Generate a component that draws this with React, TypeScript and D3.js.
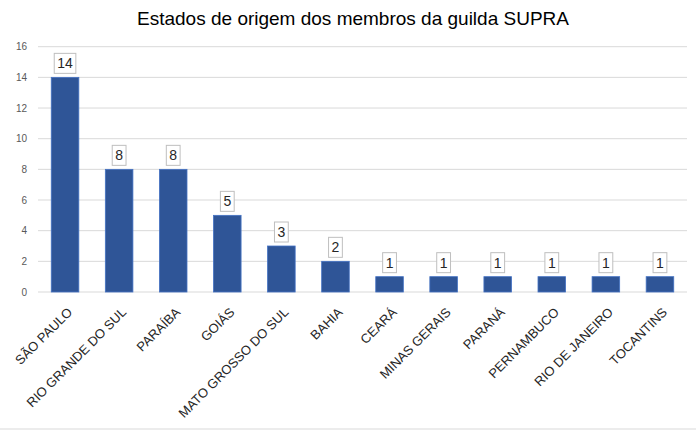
import React from "react";
import * as d3 from "d3";

const categories = [
  "SÃO PAULO",
  "RIO GRANDE DO SUL",
  "PARAÍBA",
  "GOIÁS",
  "MATO GROSSO DO SUL",
  "BAHIA",
  "CEARÁ",
  "MINAS GERAIS",
  "PARANÁ",
  "PERNAMBUCO",
  "RIO DE JANEIRO",
  "TOCANTINS",
];
const values = [14, 8, 8, 5, 3, 2, 1, 1, 1, 1, 1, 1];
const yTicks = [0, 2, 4, 6, 8, 10, 12, 14, 16];
const title = "Estados de origem dos membros da guilda SUPRA";

const W = 696;
const H = 437;
const FONT = "'Liberation Sans', Arial, sans-serif";

export default function App() {
  const left = 38;
  const right = 687;
  const top = 46.7;
  const bottom = 292;

  const x = d3
    .scaleBand<string>()
    .domain(categories)
    .range([left, right])
    .paddingInner(0.49)
    .paddingOuter(0.245);
  const y = d3.scaleLinear().domain([0, 16]).range([bottom, top]);

  const labelFont = 14;
  const charW = (s: string) => s.length * 7.8;

  return (
    <svg
      width={W}
      height={H}
      style={{ position: "absolute", left: 0, top: 0, background: "#fff" }}
      fontFamily={FONT}
    >
      <rect x={0} y={0} width={W} height={H} fill="#fff" />
      <text x={353} y={25} textAnchor="middle" fontSize={19} fill="#000">
        {title}
      </text>
      {yTicks.map((t) => (
        <g key={t}>
          <line
            x1={left}
            x2={right}
            y1={y(t)}
            y2={y(t)}
            stroke="#D9D9D9"
            strokeWidth={1}
          />
          <text
            x={27}
            y={y(t)}
            dy="0.35em"
            textAnchor="end"
            fontSize={10}
            fill="#595959"
          >
            {t}
          </text>
        </g>
      ))}
      {categories.map((c, i) => {
        const bx = x(c)!;
        const bw = x.bandwidth();
        const by = y(values[i]);
        const cx = bx + bw / 2;
        const lbl = String(values[i]);
        const boxW = charW(lbl) + 6;
        const boxH = 20;
        const boxY = by - 4 - boxH;
        return (
          <g key={c}>
            <rect
              x={bx}
              y={by}
              width={bw}
              height={bottom - by}
              fill="#2F5597"
              stroke="#4472C4"
              strokeWidth={0.8}
            />
            <rect
              x={cx - boxW / 2}
              y={boxY}
              width={boxW}
              height={boxH}
              fill="#fff"
              stroke="#BFBFBF"
              strokeWidth={1}
            />
            <text
              x={cx}
              y={boxY + boxH / 2}
              dy="0.36em"
              textAnchor="middle"
              fontSize={labelFont}
              fill="#262626"
            >
              {lbl}
            </text>
            <text
              transform={`translate(${cx + 8},${bottom + 21}) rotate(-45)`}
              textAnchor="end"
              fontSize={13}
              fill="#262626"
            >
              {c}
            </text>
          </g>
        );
      })}
      <line x1={0} x2={W} y1={429} y2={429} stroke="#D9D9D9" strokeWidth={1} />
    </svg>
  );
}
